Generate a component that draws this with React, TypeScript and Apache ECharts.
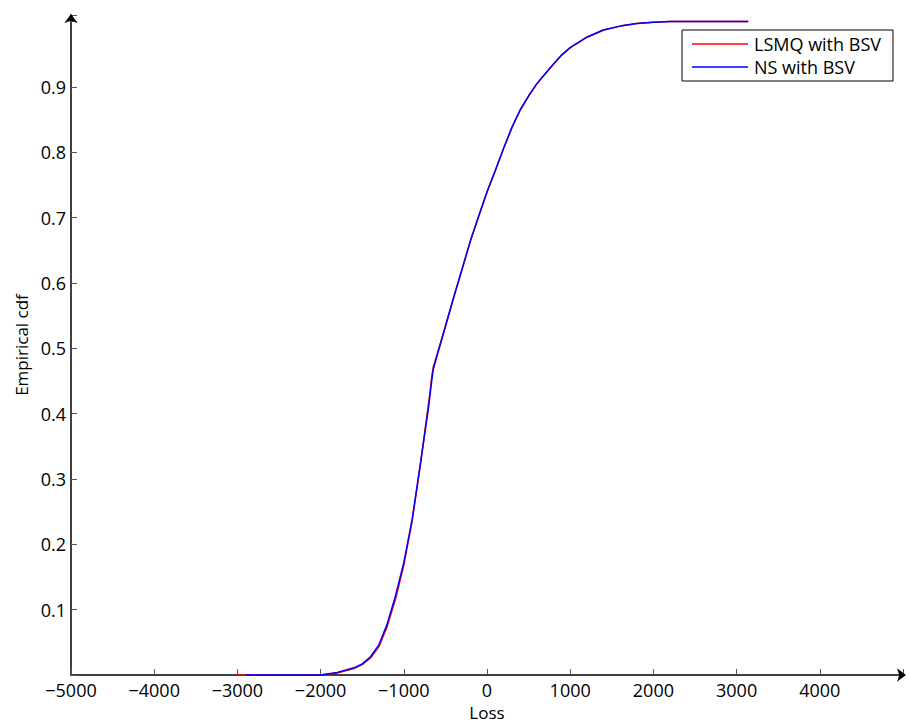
import React, { useEffect, useRef } from "react";
import * as echarts from "echarts";

const xTickValues = [-5000, -4000, -3000, -2000, -1000, 0, 1000, 2000, 3000, 4000];
const yTickValues = [0.1, 0.2, 0.3, 0.4, 0.5, 0.6, 0.7, 0.8, 0.9];

const seriesNames = ["LSMQ with BSV", "NS with BSV"];

const lsmqX = [-3020, -2500, -2000, -1800, -1600, -1500, -1400, -1300, -1200, -1100, -1000, -900, -800, -700, -660, -645, -600, -500, -400, -300, -200, -100, 0, 100, 200, 300, 400, 500, 600, 700, 800, 900, 1000, 1200, 1400, 1600, 1800, 2000, 2200, 2500, 3140];
const lsmqY = [0, 0, 0, 0.003, 0.010, 0.016, 0.026, 0.043, 0.074, 0.116, 0.168, 0.235, 0.322, 0.418, 0.460, 0.472, 0.490, 0.534, 0.578, 0.621, 0.664, 0.702, 0.739, 0.772, 0.806, 0.838, 0.865, 0.886, 0.905, 0.920, 0.935, 0.949, 0.960, 0.976, 0.987, 0.993, 0.997, 0.999, 1.0, 1.0, 1.0];

const nsX = [-2900, -2500, -2000, -1800, -1600, -1500, -1400, -1300, -1200, -1100, -1000, -900, -800, -700, -660, -645, -600, -500, -400, -300, -200, -100, 0, 100, 200, 300, 400, 500, 600, 700, 800, 900, 1000, 1200, 1400, 1600, 1800, 2000, 2200, 2500, 3140];
const nsY = [0, 0, 0, 0.004, 0.011, 0.017, 0.028, 0.046, 0.078, 0.121, 0.172, 0.238, 0.324, 0.412, 0.455, 0.468, 0.489, 0.533, 0.578, 0.621, 0.664, 0.702, 0.739, 0.772, 0.806, 0.838, 0.865, 0.886, 0.905, 0.920, 0.935, 0.949, 0.960, 0.976, 0.987, 0.993, 0.997, 0.999, 1.0, 1.0, 1.0];

const FONT = "Open Sans";

export default function App() {
  const ref = useRef<HTMLDivElement>(null);
  useEffect(() => {
    if (!ref.current) return;
    const chart = echarts.init(ref.current, undefined, { renderer: "svg" });
    const zip = (xs: number[], ys: number[]) => xs.map((x, i) => [x, ys[i]]);
    chart.setOption({
      animation: false,
      backgroundColor: "#ffffff",
      textStyle: { fontFamily: FONT },
      grid: { left: 71, right: 7, top: 15, bottom: 52, containLabel: false, outerBoundsMode: "none" },
      legend: {
        orient: "vertical",
        left: 682,
        top: 30,
        padding: [4, 12, 4, 10],
        itemGap: 3,
        itemWidth: 56,
        itemHeight: 1.5,
        icon: "rect",
        borderColor: "#000000",
        borderWidth: 1,
        backgroundColor: "#ffffff",
        textStyle: { fontFamily: FONT, fontSize: 18, color: "#000000", lineHeight: 20, padding: [0, 0, 0, 1] },
        data: seriesNames,
      },
      xAxis: {
        type: "value",
        min: -5000,
        max: 5000,
        interval: 1000,
        name: "Loss",
        nameLocation: "middle",
        nameGap: 28,
        nameTextStyle: { fontFamily: FONT, fontSize: 17, color: "#000000" },
        splitLine: { show: false },
        axisLine: {
          show: true,
          onZero: false,
          lineStyle: { color: "#000000", width: 1.5 },
          symbol: ["none", "arrow"],
          symbolSize: [10, 9],
          symbolOffset: [0, 3],
        },
        axisTick: { show: true, inside: true, length: 6, lineStyle: { color: "#555555", width: 1 } },
        axisLabel: {
          fontFamily: FONT,
          fontSize: 18,
          color: "#000000",
          margin: 6,
          formatter: (v: number) => (xTickValues.includes(v) ? String(v).replace("-", "\u2212") : ""),
        },
      },
      yAxis: {
        type: "value",
        min: 0,
        max: 1.01,
        interval: 0.1,
        name: "Empirical cdf",
        nameLocation: "middle",
        nameGap: 41,
        nameTextStyle: { fontFamily: FONT, fontSize: 17, color: "#000000" },
        splitLine: { show: false },
        axisLine: {
          show: true,
          onZero: false,
          lineStyle: { color: "#000000", width: 1.5 },
          symbol: ["none", "arrow"],
          symbolSize: [10, 9],
          symbolOffset: [0, 1],
        },
        axisTick: { show: true, inside: true, length: 6, lineStyle: { color: "#555555", width: 1 } },
        axisLabel: {
          fontFamily: FONT,
          fontSize: 18,
          color: "#000000",
          margin: 5,
          formatter: (v: number) => {
            const r = Math.round(v * 10) / 10;
            return yTickValues.some((t) => Math.abs(t - v) < 1e-6) ? r.toFixed(1) : "";
          },
        },
      },
      series: [
        {
          name: seriesNames[0],
          type: "line",
          data: zip(lsmqX, lsmqY),
          showSymbol: false,
          smooth: false,
          clip: false,
          lineStyle: { color: "#ff0000", width: 1.5 },
          itemStyle: { color: "#ff0000" },
        },
        {
          name: seriesNames[1],
          type: "line",
          data: zip(nsX, nsY),
          showSymbol: false,
          smooth: false,
          clip: false,
          lineStyle: { color: "#0000ff", width: 1.5 },
          itemStyle: { color: "#0000ff" },
        },
      ],
    });
    return () => chart.dispose();
  }, []);
  return <div ref={ref} style={{ width: 910, height: 727, position: "absolute", left: 0, top: 0 }} />;
}
